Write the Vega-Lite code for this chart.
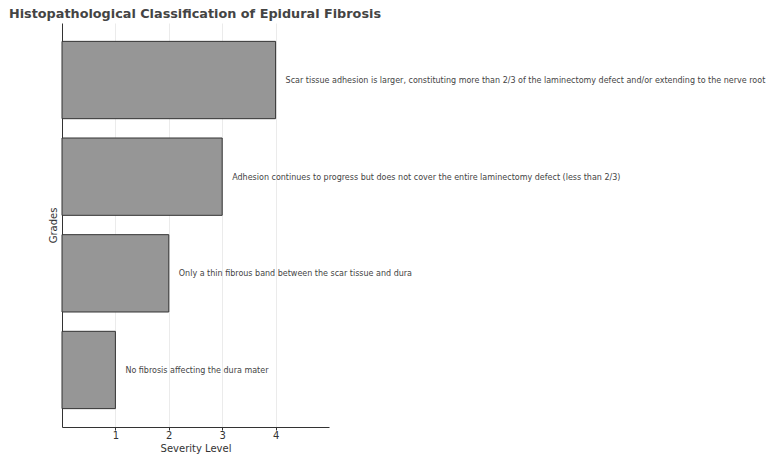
{
  "$schema": "https://vega.github.io/schema/vega-lite/v6.json",
  "width": 267,
  "height": 404,
  "autosize": "none",
  "padding": {"left": 62, "top": 23, "right": 448, "bottom": 35},
  "background": "white",
  "config": {
    "font": "DejaVu Sans",
    "view": {"stroke": null}
  },
  "title": {
    "text": "Histopathological Classification of Epidural Fibrosis",
    "anchor": "start",
    "frame": "group",
    "dx": -53,
    "offset": 2,
    "fontSize": 12.8,
    "fontWeight": "bold",
    "color": "#444444",
    "font": "DejaVu Sans"
  },
  "data": {
    "values": [
      {"grade": "Grade 1", "severity": 1, "desc": "No fibrosis affecting the dura mater"},
      {"grade": "Grade 2", "severity": 2, "desc": "Only a thin fibrous band between the scar tissue and dura"},
      {"grade": "Grade 3", "severity": 3, "desc": "Adhesion continues to progress but does not cover the entire laminectomy defect (less than 2/3)"},
      {"grade": "Grade 4", "severity": 4, "desc": "Scar tissue adhesion is larger, constituting more than 2/3 of the laminectomy defect and/or extending to the nerve root"}
    ]
  },
  "encoding": {
    "y": {
      "field": "grade",
      "type": "nominal",
      "sort": "descending",
      "scale": {"paddingInner": 0.2, "paddingOuter": 0.19},
      "axis": {
        "title": "Grades",
        "labels": false,
        "ticks": false,
        "grid": false,
        "domainColor": "#333333",
        "titleColor": "#333333",
        "titleFontWeight": "normal",
        "titleFontSize": 10,
        "titlePadding": 4
      }
    }
  },
  "layer": [
    {
      "mark": {"type": "bar", "fill": "#969696", "stroke": "#333333", "strokeWidth": 1},
      "encoding": {
        "x": {
          "field": "severity",
          "type": "quantitative",
          "scale": {"domain": [0, 5], "nice": false},
          "axis": {
            "title": "Severity Level",
            "values": [1, 2, 3, 4],
            "grid": true,
            "gridColor": "#ebebeb",
            "gridWidth": 1,
            "domainColor": "#333333",
            "tickColor": "#333333",
            "tickSize": 3,
            "labelColor": "#333333",
            "labelFontSize": 10,
            "labelPadding": 0,
            "titleColor": "#333333",
            "titleFontWeight": "normal",
            "titleFontSize": 10,
            "titlePadding": 3
          }
        }
      }
    },
    {
      "mark": {"type": "text", "align": "left", "baseline": "middle", "dx": 10, "dy": 1, "fontSize": 8, "color": "#444444"},
      "encoding": {
        "x": {"field": "severity", "type": "quantitative"},
        "text": {"field": "desc"}
      }
    }
  ]
}
